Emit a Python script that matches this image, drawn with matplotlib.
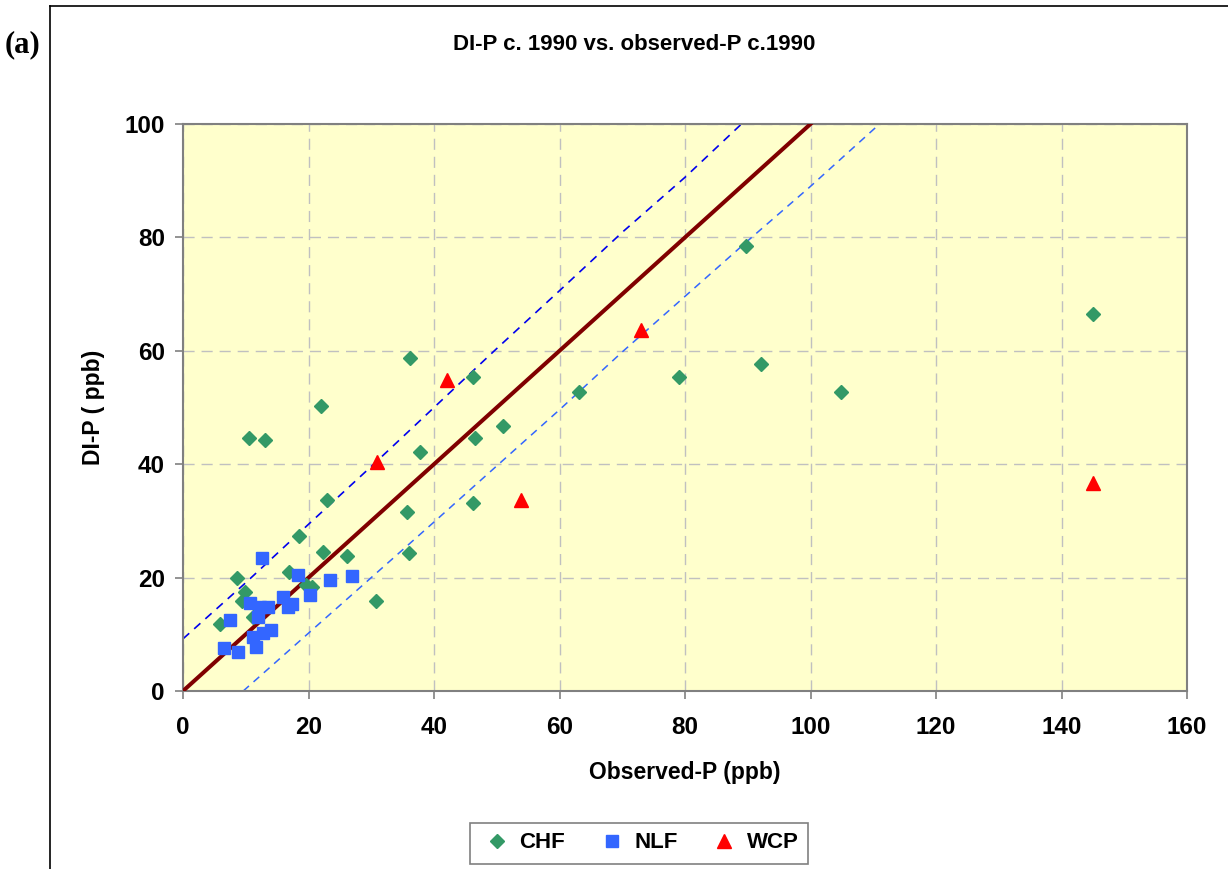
import matplotlib
matplotlib.use("Agg")
import matplotlib.pyplot as plt
from matplotlib.lines import Line2D

# CHF sites (observed-P, DI-P)
chf_obs = [5.9, 8.6, 9.9, 9.4, 10.5, 13.1, 11.2, 16.9, 18.5, 19.6, 20.5, 22.0, 22.3, 22.9, 26.1,
           30.8, 35.7, 36.0, 36.1, 37.8, 46.2, 46.5, 46.2, 51.0, 63.1, 79.0, 89.8, 92.1, 104.9, 145.0]
chf_dip = [11.9, 20.0, 17.5, 15.8, 44.7, 44.3, 13.1, 21.0, 27.3, 18.7, 18.4, 50.3, 24.6, 33.7, 23.8,
           15.9, 31.6, 24.3, 58.7, 42.2, 55.3, 44.7, 33.1, 46.7, 52.8, 55.3, 78.4, 57.7, 52.8, 66.5]

# NLF sites
nlf_obs = [12.6, 18.3, 23.4, 26.9, 20.2, 15.9, 17.3, 16.8, 10.7, 12.3, 13.6, 12.0, 7.5, 14.1,
           12.8, 11.2, 11.6, 6.5, 8.8]
nlf_dip = [23.4, 20.5, 19.5, 20.2, 17.0, 16.6, 15.4, 14.9, 15.5, 14.9, 14.9, 13.1, 12.5, 10.8,
           10.3, 9.6, 7.8, 7.5, 6.8]

# WCP sites
wcp_obs = [30.9, 42.1, 53.9, 73.0, 145.0]
wcp_dip = [40.4, 54.8, 33.7, 63.7, 36.7]

# 1:1 line and prediction bands
one_to_one = [0, 100]
upper_x = [0, 10, 20, 30, 40, 50, 60, 70, 80, 89]
upper_y = [9.2, 19.1, 29.4, 39.6, 50.0, 60.4, 70.6, 80.9, 90.6, 100]
lower_x = [9.6, 20, 30, 40, 50, 60, 70, 80, 90, 100, 111]
lower_y = [0, 10.2, 20.0, 29.8, 39.7, 49.6, 59.8, 69.6, 79.4, 89.0, 100]

fig = plt.figure(figsize=(12.28, 8.69), dpi=100)
ax = fig.add_axes([183 / 1228, 1 - 691 / 869, (1187 - 183) / 1228, (691 - 124) / 869])
ax.set_facecolor("#FFFFCC")

ax.grid(True, color="#c0c0c0", linestyle=(0, (8, 5)), linewidth=1)
ax.set_axisbelow(True)

ax.plot(upper_x, upper_y, color="#0000EE", linestyle=(0, (5, 4)), linewidth=1.2, zorder=2)
ax.plot(lower_x, lower_y, color="#3366FF", linestyle=(0, (5, 4)), linewidth=1.1, zorder=2)
ax.plot(one_to_one, one_to_one, color="#800000", linewidth=2.9, zorder=3)

ax.plot(chf_obs, chf_dip, "D", color="#339966", markersize=7.4, linestyle="none", zorder=4, label="CHF")
ax.plot(nlf_obs, nlf_dip, "s", color="#3366FF", markersize=9, linestyle="none", zorder=5, label="NLF")
ax.plot(wcp_obs, wcp_dip, "^", color="#FF0000", markersize=10, linestyle="none", zorder=6, label="WCP")

ax.set_xlim(0, 160)
ax.set_ylim(0, 100)
ax.set_xticks(range(0, 161, 20))
ax.set_yticks(range(0, 101, 20))

for s in ax.spines.values():
    s.set_color("#808080")
    s.set_linewidth(1.5)
ax.tick_params(direction="out", length=6, width=1.2, color="#808080", labelsize=17.5)
ax.tick_params(axis="x", pad=12)
ax.tick_params(axis="y", pad=7)
for lab in ax.get_xticklabels() + ax.get_yticklabels():
    lab.set_fontweight("bold")
    lab.set_family("Liberation Sans")

ax.set_xlabel("Observed-P (ppb)", fontsize=16.5, fontweight="bold", family="Liberation Sans", labelpad=16)
ax.set_ylabel("DI-P ( ppb)", fontsize=16.5, fontweight="bold", family="Liberation Sans", labelpad=14)

fig.text(634 / 1228, 1 - 45 / 869, "DI-P c. 1990 vs. observed-P c.1990", ha="center", va="center",
         fontsize=16, fontweight="bold", family="Liberation Sans")
fig.text(5 / 1228, 1 - 45 / 869, "(a)", ha="left", va="center",
         fontsize=22, fontweight="bold", family="Liberation Serif")

# outer chart frame
fig.add_artist(Line2D([50 / 1228, 50 / 1228], [0, 1 - 6 / 869], color="black", linewidth=1.2,
                      transform=fig.transFigure))
fig.add_artist(Line2D([50 / 1228, 1], [1 - 6 / 869, 1 - 6 / 869], color="black", linewidth=1.2,
                      transform=fig.transFigure))

leg = fig.legend(loc="center", bbox_to_anchor=(639 / 1228, 1 - 843 / 869), ncol=3,
                 prop={"family": "Liberation Sans", "weight": "bold", "size": 16},
                 fancybox=False, edgecolor="#808080", framealpha=1, handletextpad=0.2,
                 handlelength=1.6, columnspacing=1.3, borderpad=0.45, markerscale=0.95)
leg.get_frame().set_linewidth(1.2)

fig.savefig("out.png", dpi=100, facecolor="white")
